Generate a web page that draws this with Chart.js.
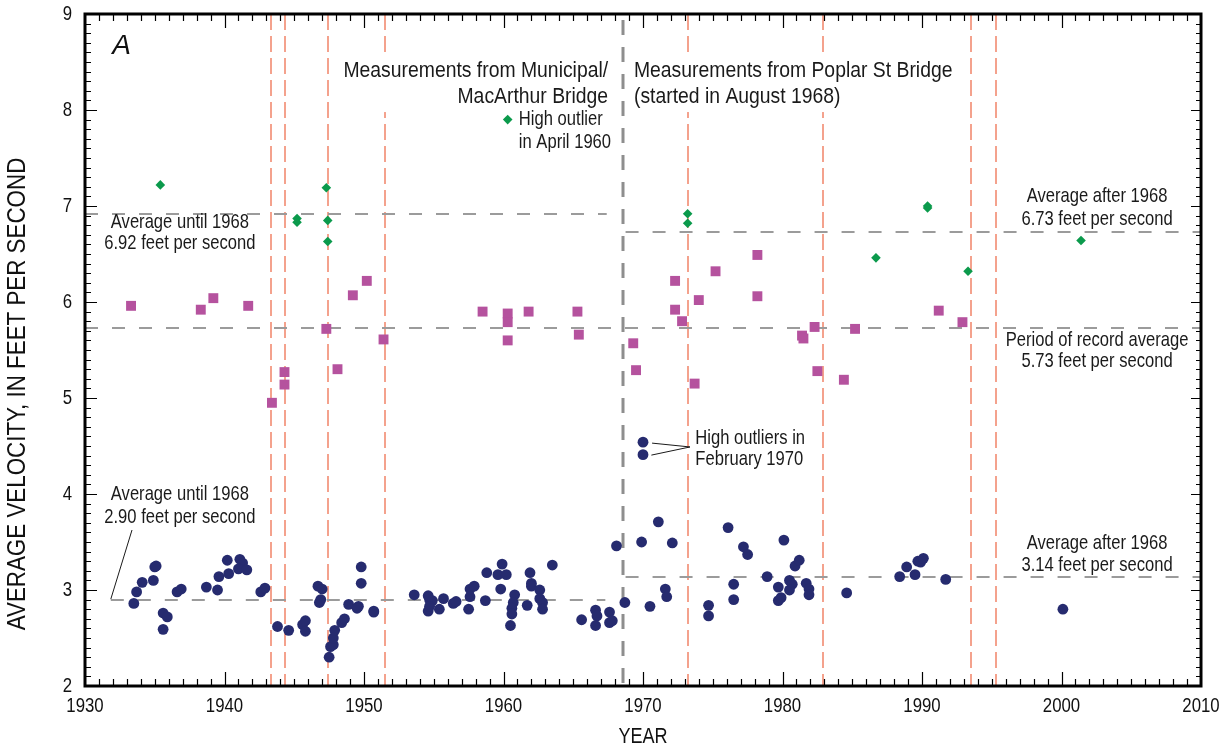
<!DOCTYPE html>
<html>
<head>
<meta charset="utf-8">
<script src="https://cdn.jsdelivr.net/npm/chart.js@4/dist/chart.umd.min.js"></script>
<style>
  html, body { margin: 0; padding: 0; background: #ffffff; }
  canvas { display: block; }
</style>
</head>
<body>
<canvas id="chart" width="1228" height="750"></canvas>
<script>
const FONT = '"Liberation Sans", Arial, sans-serif';

// Axis ticks
const xTicks = [1930, 1940, 1950, 1960, 1970, 1980, 1990, 2000, 2010];
const yTicks = [2, 3, 4, 5, 6, 7, 8, 9];

// Low-flow measurements (navy circles)
const circleYears = [
  1933.5, 1933.7, 1934.1, 1934.9, 1935.0, 1935.1, 1935.6, 1935.9, 1935.6, 1936.6,
  1936.9, 1938.7, 1939.5, 1939.6, 1940.2, 1940.3, 1941.1, 1941.3, 1941.0, 1941.6,
  1942.6, 1942.9, 1943.8, 1944.6, 1945.6, 1945.8, 1945.8, 1946.7, 1947.0, 1946.9,
  1946.8, 1947.5, 1947.6, 1947.8, 1947.8, 1947.9, 1948.4, 1948.6, 1948.9, 1949.6,
  1949.5, 1949.8, 1949.8, 1950.7, 1950.7, 1953.6, 1954.6, 1954.7, 1954.9, 1954.6,
  1954.7, 1955.4, 1955.7, 1956.4, 1956.6, 1957.5, 1957.6, 1957.6, 1957.9, 1958.7,
  1958.8, 1959.6, 1959.9, 1960.2, 1959.8, 1960.8, 1960.7, 1960.6, 1960.6, 1960.5,
  1961.7, 1961.9, 1962.0, 1962.0, 1962.6, 1962.6, 1962.8, 1962.8, 1963.5, 1965.6,
  1966.6, 1966.7, 1966.6, 1967.6, 1967.6, 1967.8, 1968.1, 1968.7, 1970.0, 1970.0,
  1969.9, 1970.5, 1971.1, 1972.1, 1971.6, 1971.7, 1974.7, 1974.7, 1976.1, 1976.5,
  1976.5, 1977.2, 1977.5, 1978.9, 1979.7, 1979.7, 1979.9, 1980.1, 1980.5, 1980.7,
  1980.5, 1980.9, 1981.2, 1981.7, 1981.9, 1981.9, 1984.6, 1988.4, 1988.9, 1989.5,
  1989.7, 1989.9, 1990.1, 1991.7, 2000.1
];
const circleVelocity = [
  2.86, 2.98, 3.08, 3.10, 3.24, 3.25, 2.76, 2.72, 2.59, 2.98,
  3.01, 3.03, 3.00, 3.14, 3.31, 3.17, 3.32, 3.28, 3.22, 3.21,
  2.98, 3.02, 2.62, 2.58, 2.64, 2.68, 2.57, 3.04, 3.01, 2.90,
  2.87, 2.30, 2.41, 2.43, 2.50, 2.58, 2.66, 2.70, 2.85, 2.83,
  2.81, 3.07, 3.24, 2.77, 2.78, 2.95, 2.94, 2.90, 2.89, 2.78,
  2.83, 2.80, 2.91, 2.86, 2.88, 2.80, 2.93, 3.01, 3.04, 2.89,
  3.18, 3.16, 3.27, 3.16, 3.01, 2.95, 2.87, 2.81, 2.75, 2.63,
  2.84, 3.18, 3.07, 3.04, 3.00, 2.91, 2.87, 2.80, 3.26, 2.69,
  2.79, 2.73, 2.63, 2.77, 2.66, 2.68, 3.46, 2.87, 4.54, 4.41,
  3.50, 2.83, 3.71, 3.49, 3.01, 2.93, 2.84, 2.73, 3.65, 3.06,
  2.90, 3.45, 3.37, 3.14, 3.03, 2.89, 2.92, 3.52, 3.10, 3.06,
  3.00, 3.25, 3.31, 3.07, 3.01, 2.95, 2.97, 3.14, 3.24, 3.16,
  3.30, 3.29, 3.33, 3.11, 2.80
];

// Mid-range measurements (magenta squares)
const squareYears = [
  1933.3, 1938.3, 1939.2, 1941.7, 1943.4, 1944.3, 1944.3, 1947.3, 1948.1, 1949.2,
  1950.2, 1951.4, 1958.5, 1960.3, 1960.3, 1960.3, 1961.8, 1965.3, 1965.4, 1969.3,
  1969.5, 1972.3, 1972.3, 1972.8, 1974.0, 1975.2, 1978.2, 1978.2, 1973.7, 1981.4,
  1981.5, 1982.3, 1982.5, 1984.4, 1985.2, 1991.2, 1992.9
];
const squareVelocity = [
  5.96, 5.92, 6.04, 5.96, 4.95, 5.27, 5.14, 5.72, 5.30, 6.07,
  6.22, 5.61, 5.90, 5.88, 5.79, 5.60, 5.90, 5.90, 5.66, 5.57,
  5.29, 6.22, 5.92, 5.80, 6.02, 6.32, 6.49, 6.06, 5.15, 5.65,
  5.62, 5.74, 5.28, 5.19, 5.72, 5.91, 5.79
];

// High-flow measurements (green diamonds)
const diamondYears = [
  1935.4, 1945.2, 1945.2, 1947.3, 1947.4, 1947.4, 1960.3, 1973.2, 1973.2, 1986.7,
  1990.4, 1990.4, 1993.3, 2001.4
];
const diamondVelocity = [
  7.22, 6.87, 6.83, 7.19, 6.85, 6.63, 7.90, 6.92, 6.82, 6.46,
  7.00, 6.98, 6.32, 6.64
];

// Flood years (salmon dashed verticals) and change of measuring bridge
const floodYears = [1943.35, 1944.35, 1947.45, 1951.5, 1973.25, 1982.9, 1993.5, 1995.3];
const bridgeChangeYear = 1968.55;

// Average velocity reference lines
const avgValues = [6.92, 6.73, 5.73, 2.90, 3.14];
const avgFrom   = [1930, 1968.75, 1930, 1931.85, 1968.75];
const avgTo     = [1967.4, 2010, 2010, 1967.3, 2010];

// Annotation text blocks: anchor year, anchor velocity, alignment, lines
const notes = [
  { x: 1967.5, y: 8.41, align: 'right', size: 22, sx: 0.88, gap: 26, bg: true,
    lines: ['Measurements from Municipal/', 'MacArthur Bridge'] },
  { x: 1969.35, y: 8.41, align: 'left', size: 22, sx: 0.88, gap: 26, bg: true,
    lines: ['Measurements from Poplar St Bridge', '(started in August 1968)'] },
  { x: 1961.1, y: 7.90, align: 'left', size: 21, sx: 0.79, gap: 23,
    lines: ['High outlier', 'in April 1960'] },
  { x: 1936.8, y: 6.83, align: 'center', size: 21, sx: 0.79, gap: 21,
    lines: ['Average until 1968', '6.92 feet per second'] },
  { x: 2002.55, y: 7.10, align: 'center', size: 21, sx: 0.79, gap: 23,
    lines: ['Average after 1968', '6.73 feet per second'] },
  { x: 2002.55, y: 5.60, align: 'center', size: 21, sx: 0.79, gap: 21,
    lines: ['Period of record average', '5.73 feet per second'] },
  { x: 1936.8, y: 4.00, align: 'center', size: 21, sx: 0.79, gap: 23,
    lines: ['Average until 1968', '2.90 feet per second'] },
  { x: 2002.55, y: 3.49, align: 'center', size: 21, sx: 0.79, gap: 22,
    lines: ['Average after 1968', '3.14 feet per second'] },
  { x: 1973.75, y: 4.58, align: 'left', size: 21, sx: 0.79, gap: 21,
    lines: ['High outliers in', 'February 1970'] }
];

// Leader lines [year1, vel1, year2, vel2]
const leaders = [
  [1931.85, 2.905, 1933.37, 3.625],
  [1970.65, 4.53, 1973.37, 4.49],
  [1970.6, 4.405, 1973.37, 4.49]
];

function toPoints(xs, ys) { return xs.map((v, i) => ({ x: v, y: ys[i] })); }

// Condensed text: regular face squeezed horizontally
function textWidth(ctx, t, size, sx, style) {
  ctx.font = (style || '') + size + 'px ' + FONT;
  return ctx.measureText(t).width * sx;
}
function drawText(ctx, t, x, y, size, sx, align, style) {
  const w = textWidth(ctx, t, size, sx, style);
  const left = align === 'left' ? x : align === 'right' ? x - w : x - w / 2;
  ctx.save();
  ctx.translate(left, y);
  ctx.scale(sx, 1);
  ctx.textAlign = 'left';
  ctx.textBaseline = 'middle';
  ctx.fillText(t, 0, 0);
  ctx.restore();
}

const overlay = {
  id: 'overlay',
  beforeDatasetsDraw(chart) {
    const { ctx, chartArea: a, scales: { x, y } } = chart;
    ctx.save();
    ctx.beginPath();
    ctx.rect(a.left, a.top, a.right - a.left, a.bottom - a.top);
    ctx.clip();

    // Flood lines
    ctx.strokeStyle = '#f4a28d';
    ctx.lineWidth = 2;
    ctx.setLineDash([16, 6]);
    floodYears.forEach(yr => {
      const px = Math.round(x.getPixelForValue(yr));
      ctx.beginPath();
      ctx.moveTo(px, a.top);
      ctx.lineTo(px, a.bottom);
      ctx.stroke();
    });

    // Averages
    ctx.strokeStyle = '#9b9b9b';
    ctx.lineWidth = 2;
    ctx.setLineDash([13, 14]);
    avgValues.forEach((v, i) => {
      const py = Math.round(y.getPixelForValue(v));
      ctx.beginPath();
      ctx.moveTo(x.getPixelForValue(avgFrom[i]), py);
      ctx.lineTo(x.getPixelForValue(avgTo[i]), py);
      ctx.stroke();
    });

    // Bridge change
    ctx.strokeStyle = '#8e8e8e';
    ctx.lineWidth = 3;
    ctx.setLineDash([15, 12]);
    const bx = Math.round(x.getPixelForValue(bridgeChangeYear));
    ctx.beginPath();
    ctx.moveTo(bx, a.top + 6);
    ctx.lineTo(bx, a.bottom);
    ctx.stroke();

    // Leader lines
    ctx.setLineDash([]);
    ctx.strokeStyle = '#1a1a1a';
    ctx.lineWidth = 1;
    leaders.forEach(l => {
      ctx.beginPath();
      ctx.moveTo(x.getPixelForValue(l[0]), y.getPixelForValue(l[1]));
      ctx.lineTo(x.getPixelForValue(l[2]), y.getPixelForValue(l[3]));
      ctx.stroke();
    });

    // Text blocks
    notes.forEach(n => {
      const px = x.getPixelForValue(n.x);
      const py = y.getPixelForValue(n.y);
      if (n.bg) {
        const w = Math.max(...n.lines.map(t => textWidth(ctx, t, n.size, n.sx)));
        let left = px;
        if (n.align === 'right') left = px - w;
        if (n.align === 'center') left = px - w / 2;
        const top = py - n.size * 0.7;
        const h = n.gap * (n.lines.length - 1) + n.size * 1.4;
        ctx.fillStyle = '#ffffff';
        ctx.fillRect(left - 5, top, w + 9, h);
      }
      ctx.fillStyle = '#1a1a1a';
      n.lines.forEach((t, i) => drawText(ctx, t, px, py + i * n.gap, n.size, n.sx, n.align));
    });

    // Panel letter
    ctx.fillStyle = '#111111';
    drawText(ctx, 'A', x.getPixelForValue(1931.95), y.getPixelForValue(8.66), 28, 1, 'left', 'italic ');
    ctx.restore();
  },
  afterDraw(chart) {
    const { ctx, chartArea: a, scales: { x, y } } = chart;
    ctx.save();
    ctx.strokeStyle = '#000000';
    ctx.setLineDash([]);

    // Inward tick marks on all four sides
    ctx.lineWidth = 1.2;
    ctx.beginPath();
    for (let yr = 1931; yr < 2010; yr++) {
      const px = Math.round(x.getPixelForValue(yr)) + 0.5;
      const len = yr % 10 === 0 ? 14 : 7;
      ctx.moveTo(px, a.bottom); ctx.lineTo(px, a.bottom - len);
      ctx.moveTo(px, a.top); ctx.lineTo(px, a.top + len);
    }
    for (let k = 21; k < 90; k++) {
      const py = Math.round(y.getPixelForValue(k / 10)) + 0.5;
      const left = k % 10 === 0 ? 12 : 6;
      const right = k % 10 === 0 ? 10 : 5;
      ctx.moveTo(a.left, py); ctx.lineTo(a.left + left, py);
      ctx.moveTo(a.right, py); ctx.lineTo(a.right - right, py);
    }
    ctx.stroke();

    // Frame
    ctx.lineWidth = 3;
    ctx.strokeRect(a.left, a.top, a.right - a.left, a.bottom - a.top);

    // Tick labels from the scales' own ticks
    ctx.fillStyle = '#111111';
    x.ticks.forEach(t => {
      drawText(ctx, String(t.value), x.getPixelForValue(t.value), a.bottom + 20, 20, 0.84, 'center');
    });
    y.ticks.forEach(t => {
      drawText(ctx, String(t.value), a.left - 13, y.getPixelForValue(t.value), 20, 0.84, 'right');
    });

    // Axis titles
    drawText(ctx, 'YEAR', (a.left + a.right) / 2, 737, 22, 0.82, 'center');
    ctx.save();
    ctx.translate(18, 394);
    ctx.rotate(-Math.PI / 2);
    drawText(ctx, 'AVERAGE VELOCITY, IN FEET PER SECOND', 0, 0, 26, 0.86, 'center');
    ctx.restore();
    ctx.restore();
  }
};

new Chart(document.getElementById('chart'), {
  type: 'scatter',
  data: {
    datasets: [
      {
        label: 'Low flow',
        data: toPoints(circleYears, circleVelocity),
        pointStyle: 'circle',
        pointRadius: 5.4,
        backgroundColor: '#262b6f',
        borderColor: '#262b6f',
        borderWidth: 0
      },
      {
        label: 'Medium flow',
        data: toPoints(squareYears, squareVelocity),
        pointStyle: 'rect',
        pointRadius: 7,
        backgroundColor: '#b5529e',
        borderColor: '#b5529e',
        borderWidth: 0
      },
      {
        label: 'High flow',
        data: toPoints(diamondYears, diamondVelocity),
        pointStyle: 'rectRot',
        pointRadius: 4.8,
        backgroundColor: '#0b9a4c',
        borderColor: '#0b9a4c',
        borderWidth: 0
      }
    ]
  },
  options: {
    responsive: false,
    animation: false,
    devicePixelRatio: 1,
    layout: { padding: { left: 0, right: 27, top: 14, bottom: 0 } },
    plugins: { legend: { display: false }, tooltip: { enabled: false } },
    scales: {
      x: {
        type: 'linear',
        min: 1930, max: 2010,
        grid: { display: false },
        border: { display: false },
        afterBuildTicks: s => { s.ticks = xTicks.map(v => ({ value: v })); },
        afterFit: s => { s.height = 64; },
        ticks: { display: false }
      },
      y: {
        type: 'linear',
        min: 2, max: 9,
        grid: { display: false },
        border: { display: false },
        afterBuildTicks: s => { s.ticks = yTicks.map(v => ({ value: v })); },
        afterFit: s => { s.width = 85; },
        ticks: { display: false }
      }
    }
  },
  plugins: [overlay]
});
</script>
</body>
</html>
